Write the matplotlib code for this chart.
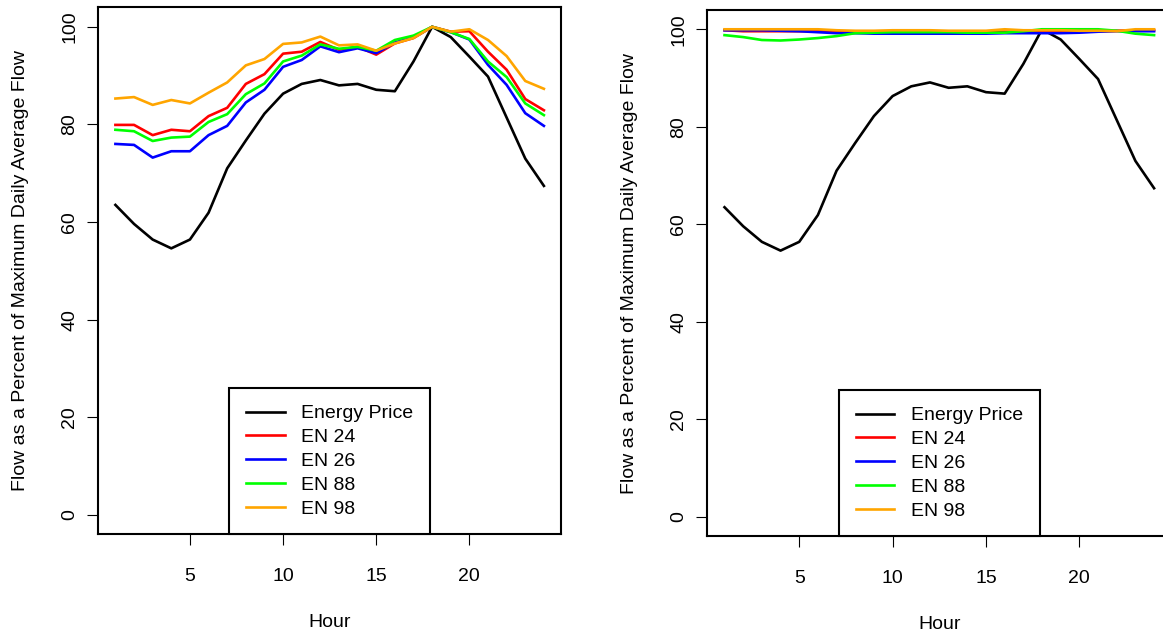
import matplotlib
matplotlib.use("Agg")
import matplotlib.pyplot as plt

plt.rcParams['font.family'] = ['Liberation Sans', 'DejaVu Sans']

hours = list(range(1, 25))

energy_price = [63.5, 59.6, 56.4, 54.6, 56.4, 61.9, 71.0, 76.7, 82.2, 86.3, 88.3, 89.1,
                88.0, 88.3, 87.1, 86.8, 92.9, 100.0, 97.9, 93.9, 89.8, 81.4, 73.0, 67.4]

# left panel
en24_a = [79.9, 79.9, 77.8, 78.9, 78.6, 81.7, 83.4, 88.3, 90.3, 94.5, 94.9, 96.9,
          95.3, 95.9, 94.3, 96.6, 97.7, 100.0, 99.0, 99.1, 94.9, 91.2, 85.2, 82.9]
en26_a = [76.0, 75.8, 73.2, 74.5, 74.5, 77.8, 79.7, 84.5, 87.1, 91.8, 93.2, 96.0,
          94.8, 95.6, 94.6, 96.8, 97.8, 100.0, 98.9, 97.4, 92.2, 88.1, 82.3, 79.7]
en88_a = [78.9, 78.6, 76.6, 77.3, 77.5, 80.5, 82.1, 86.2, 88.4, 92.9, 94.1, 96.4,
          95.5, 95.9, 95.1, 97.3, 98.2, 100.0, 98.9, 97.5, 92.9, 89.7, 84.3, 81.9]
en98_a = [85.3, 85.6, 84.0, 85.0, 84.3, 86.5, 88.6, 92.1, 93.4, 96.5, 96.8, 98.0,
          96.2, 96.4, 95.1, 96.6, 97.7, 100.0, 99.0, 99.5, 97.3, 94.0, 88.9, 87.3]

# right panel
en24_b = [99.8, 99.6, 99.6, 99.6, 99.6, 99.6, 99.5, 99.5, 99.5, 99.5, 99.5, 99.5,
          99.5, 99.5, 99.5, 99.5, 99.5, 99.6, 99.6, 99.6, 99.6, 99.7, 99.8, 99.8]
en26_b = [99.8, 99.8, 99.8, 99.7, 99.6, 99.4, 99.2, 99.2, 99.1, 99.1, 99.1, 99.1,
          99.1, 99.1, 99.1, 99.2, 99.2, 99.2, 99.2, 99.3, 99.5, 99.6, 99.6, 99.6]
en88_b = [98.8, 98.4, 97.8, 97.7, 97.9, 98.2, 98.6, 99.2, 99.3, 99.4, 99.4, 99.4,
          99.4, 99.3, 99.3, 99.3, 99.6, 100.0, 100.0, 100.0, 100.0, 99.7, 99.1, 98.8]
en98_b = [100.0, 100.0, 100.0, 100.0, 100.0, 100.0, 99.8, 99.7, 99.7, 99.8, 99.8, 99.8,
          99.7, 99.7, 99.7, 100.0, 99.8, 99.8, 99.8, 99.7, 99.7, 99.6, 100.0, 100.0]

series_names = ["Energy Price", "EN 24", "EN 26", "EN 88", "EN 98"]
series_colors = ["black", "#FF0000", "#0000FF", "#00FF00", "#FFA500"]
xticks = [5, 10, 15, 20]
yticks = [0, 20, 40, 60, 80, 100]
xlabel = "Hour"
ylabel = "Flow as a Percent of Maximum Daily Average Flow"

FS = 14
fig = plt.figure(figsize=(11.63, 6.35), dpi=100)
ax1 = fig.add_axes([0.0845, 0.1586, 0.3979, 0.8299])
ax2 = fig.add_axes([0.6082, 0.1554, 0.3989, 0.8292])

panels = [(ax1, [energy_price, en24_a, en26_a, en88_a, en98_a]),
          (ax2, [energy_price, en24_b, en26_b, en88_b, en98_b])]

for ax, data in panels:
    for vals, name, col in zip(data, series_names, series_colors):
        ax.plot(hours, vals, color=col, lw=1.9, label=name, solid_joinstyle='round')
    ax.set_xlim(0.08, 24.92)
    ax.set_ylim(-4, 104)
    ax.set_xticks(xticks)
    ax.set_xticklabels([str(t) for t in xticks], fontsize=FS)
    ax.set_yticks(yticks)
    ax.set_yticklabels([str(t) for t in yticks], fontsize=FS, rotation=90, va='center')
    ax.tick_params(axis='both', direction='out', length=8, width=0.8, color='black')
    ax.tick_params(axis='x', pad=16)
    ax.tick_params(axis='y', pad=6.5)
    for s in ax.spines.values():
        s.set_linewidth(1.5)
        s.set_color('black')
    ax.set_xlabel(xlabel, fontsize=FS)
    ax.set_ylabel(ylabel, fontsize=FS)
    ax.xaxis.set_label_coords(0.5, -0.152)
    ax.yaxis.set_label_coords(-0.149, 0.5)
    leg = ax.legend(loc='lower center', bbox_to_anchor=(0.5, 0.0), borderaxespad=0,
                    fontsize=FS, frameon=True, fancybox=False, framealpha=1,
                    edgecolor='black', borderpad=0.85, labelspacing=0.32,
                    handlelength=2.0, handletextpad=0.85)
    leg.get_frame().set_linewidth(1.5)

fig.savefig("out.png", dpi=100)
